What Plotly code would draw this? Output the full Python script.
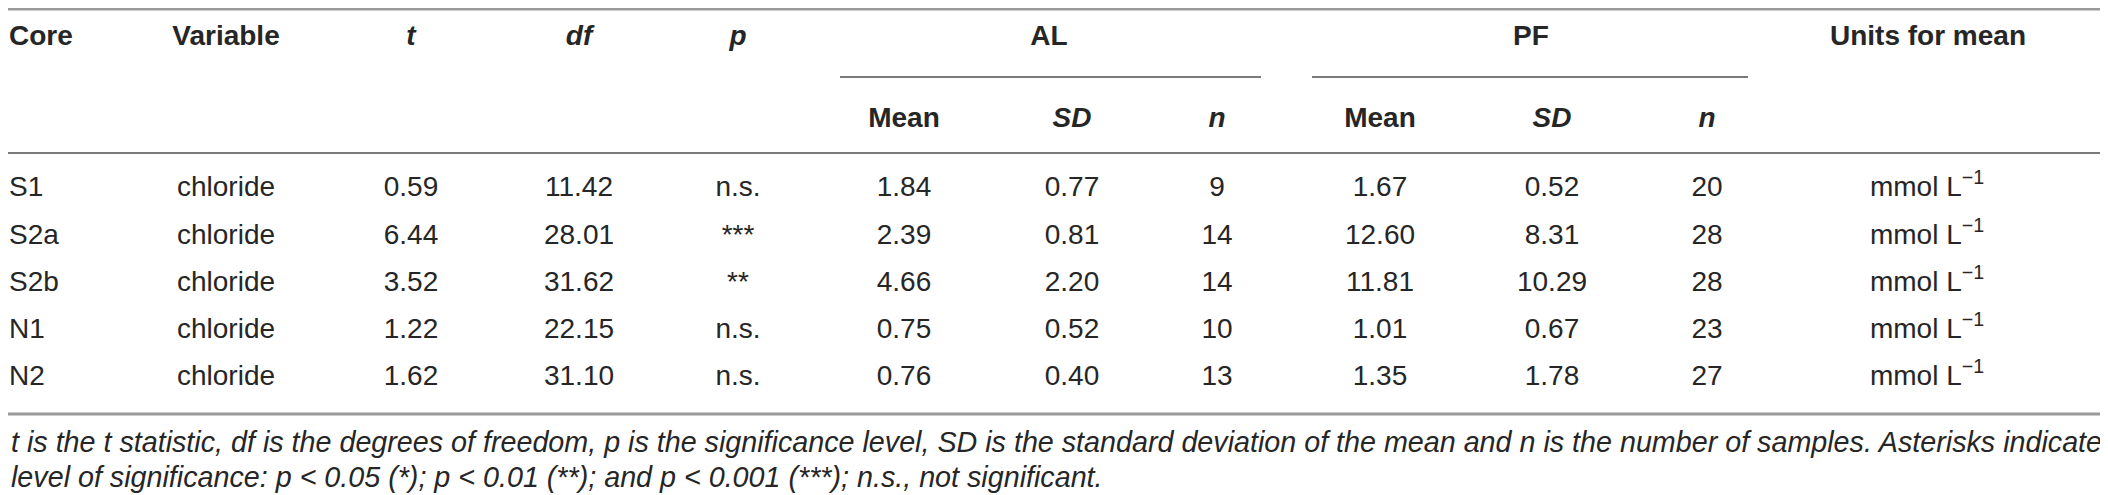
import plotly.graph_objects as go

# table content
cores = ["S1", "S2a", "S2b", "N1", "N2"]
variables = ["chloride", "chloride", "chloride", "chloride", "chloride"]
t_stat = ["0.59", "6.44", "3.52", "1.22", "1.62"]
dof = ["11.42", "28.01", "31.62", "22.15", "31.10"]
p_level = ["n.s.", "***", "**", "n.s.", "n.s."]
al_mean = ["1.84", "2.39", "4.66", "0.75", "0.76"]
al_sd = ["0.77", "0.81", "2.20", "0.52", "0.40"]
al_n = ["9", "14", "14", "10", "13"]
pf_mean = ["1.67", "12.60", "11.81", "1.01", "1.35"]
pf_sd = ["0.52", "8.31", "10.29", "0.67", "1.78"]
pf_n = ["20", "28", "28", "23", "27"]
units = ["mmol L<sup>\u22121</sup>"] * 5

top_headers = ["<b>Core</b>", "<b>Variable</b>", "<b><i>t</i></b>", "<b><i>df</i></b>",
               "<b><i>p</i></b>", "<b>AL</b>", "<b>PF</b>", "<b>Units for mean</b>"]
sub_headers = ["<b>Mean</b>", "<b><i>SD</i></b>", "<b><i>n</i></b>"] * 2

footnote = [
    "t is the t statistic, df is the degrees of freedom, p is the significance level, SD is the standard "
    "deviation of the mean and n is the number of samples. Asterisks indicate",
    "level of significance: p < 0.05 (*); p < 0.01 (**); and p < 0.001 (***); n.s., not significant.",
]

# layout in screen pixels; the page body has an 8px margin, so the axes start at 8
W, H = 2108, 495
PAD = 8
FONT = "Liberation Sans, Arial, Helvetica, sans-serif"
TEXT = "#262626"
LINE = "#7a7a7a"

col_x = {"core": 9, "var": 226, "t": 411, "df": 579, "p": 738,
         "al_mean": 904, "al_sd": 1072, "al_n": 1217,
         "pf_mean": 1380, "pf_sd": 1552, "pf_n": 1707, "units": 1927}
top_header_x = [9, 226, 411, 579, 738, 1049, 1531, 1928]
row_y = [189, 237, 284, 331, 378]

fig = go.Figure()


def text_col(x, texts, y, pos="middle center", size=28):
    fig.add_trace(go.Scatter(
        x=[x] * len(texts), y=y, text=texts, mode="text", cliponaxis=False,
        textposition=pos, hoverinfo="skip", showlegend=False,
        textfont=dict(family=FONT, size=size, color=TEXT),
    ))


# header rows
for i, (hx, label) in enumerate(zip(top_header_x, top_headers)):
    text_col(hx, [label], [38], pos="middle right" if i == 0 else "middle center")
sub_x = [col_x[k] for k in ["al_mean", "al_sd", "al_n", "pf_mean", "pf_sd", "pf_n"]]
for sx, label in zip(sub_x, sub_headers):
    text_col(sx, [label], [120])

# body
text_col(col_x["core"], cores, row_y, pos="middle right")
for key, vals in [("var", variables), ("t", t_stat), ("df", dof), ("p", p_level),
                  ("al_mean", al_mean), ("al_sd", al_sd), ("al_n", al_n),
                  ("pf_mean", pf_mean), ("pf_sd", pf_sd), ("pf_n", pf_n), ("units", units)]:
    text_col(col_x[key], vals, row_y)

# footnote
for fy, line in zip([442, 477], footnote):
    fig.add_annotation(x=PAD + 1, y=fy, xref="x", yref="y", text=f"<i>{line}</i>", showarrow=False,
                       xanchor="left", yanchor="middle",
                       font=dict(family=FONT, size=28.7, color=TEXT))

# rules
rules = [(PAD, W + PAD, PAD + 1, 3, "#9a9a9a"), (PAD, W + PAD, 153, 2, LINE),
         (840, 1261, 77, 2, LINE), (1312, 1748, 77, 2, LINE),
         (PAD, W + PAD, 414, 3, "#9a9a9a")]
for x0, x1, y, w, c in rules:
    fig.add_shape(type="line", x0=x0, x1=x1, y0=y, y1=y, xref="x", yref="y",
                  line=dict(color=c, width=w))

fig.update_xaxes(range=[PAD, W + PAD], visible=False, fixedrange=True)
fig.update_yaxes(range=[H + PAD, PAD], visible=False, fixedrange=True)
fig.update_layout(width=W, height=H, autosize=False, margin=dict(l=0, r=0, t=0, b=0),
                  paper_bgcolor="white", plot_bgcolor="white")

fig.write_html("out.html")
